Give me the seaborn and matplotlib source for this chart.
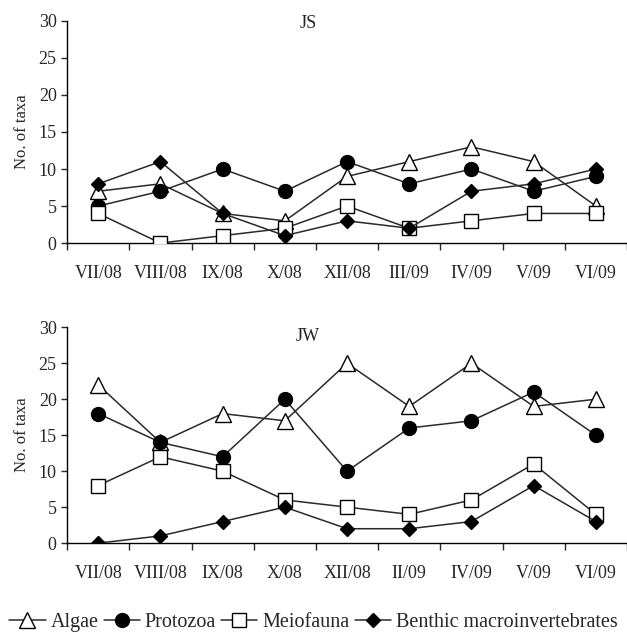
import numpy as np
import pandas as pd
import matplotlib
matplotlib.use("Agg")
import matplotlib.pyplot as plt
from matplotlib.ticker import FixedLocator
from matplotlib.lines import Line2D
import seaborn as sns

sns.set_style("ticks")
plt.rcParams["font.family"] = ["Liberation Serif", "DejaVu Serif"]

# sampling dates for each site
js_months = ["VII/08", "VIII/08", "IX/08", "X/08", "XII/08", "III/09", "IV/09", "V/09", "VI/09"]
jw_months = ["VII/08", "VIII/08", "IX/08", "X/08", "XII/08", "II/09", "IV/09", "V/09", "VI/09"]

groups = ["Algae", "Protozoa", "Meiofauna", "Benthic macroinvertebrates"]

# JS site
js_algae = [7, 8, 4, 3, 9, 11, 13, 11, 5]
js_protozoa = [5, 7, 10, 7, 11, 8, 10, 7, 9]
js_meiofauna = [4, 0, 1, 2, 5, 2, 3, 4, 4]
js_benthic = [8, 11, 4, 1, 3, 2, 7, 8, 10]

# JW site
jw_algae = [22, 14, 18, 17, 25, 19, 25, 19, 20]
jw_protozoa = [18, 14, 12, 20, 10, 16, 17, 21, 15]
jw_meiofauna = [8, 12, 10, 6, 5, 4, 6, 11, 4]
jw_benthic = [0, 1, 3, 5, 2, 2, 3, 8, 3]

styles = {
    "Algae": dict(marker="^", markerfacecolor="white", markersize=11),
    "Protozoa": dict(marker="o", markerfacecolor="black", markersize=10),
    "Meiofauna": dict(marker="s", markerfacecolor="white", markersize=10),
    "Benthic macroinvertebrates": dict(marker="D", markerfacecolor="black", markersize=7),
}
line_col = "#2a2a2a"
serif = ["Liberation Serif", "DejaVu Serif"]


def panel(ax, months, series, title, title_y):
    for name, vals in zip(groups, series):
        st = styles[name]
        sns.lineplot(x=np.arange(len(months)), y=vals, ax=ax, color=line_col,
                     marker=st["marker"], markersize=st["markersize"],
                     markerfacecolor=st["markerfacecolor"], markeredgecolor="black",
                     markeredgewidth=1.0, linewidth=1.1, zorder=3)
    ax.set_xlim(-0.5, len(months) - 0.5)
    ax.set_ylim(0, 30)
    ax.set_yticks(range(0, 31, 5))
    ax.xaxis.set_major_locator(FixedLocator(np.arange(-0.5, len(months), 1.0)))
    ax.xaxis.set_minor_locator(FixedLocator(np.arange(len(months))))
    ax.set_xticklabels([])
    ax.set_xticklabels(months, minor=True)
    ax.tick_params(axis="x", which="major", length=5, width=1, direction="out")
    ax.tick_params(axis="x", which="minor", length=0, pad=16, labelsize=13)
    ax.tick_params(axis="y", length=4.5, width=1, labelsize=13, pad=3)
    ax.set_ylabel("No. of taxa", fontsize=12, labelpad=6)
    ax.set_xlabel("")
    ax.text(0.43, title_y, title, transform=ax.transAxes, ha="center", va="center",
            fontsize=13, family=serif)
    for s in ["top", "right"]:
        ax.spines[s].set_visible(False)
    for s in ["left", "bottom"]:
        ax.spines[s].set_linewidth(1.0)
        ax.spines[s].set_color("black")


fig = plt.figure(figsize=(6.27, 6.33), dpi=100)
ax1 = fig.add_axes([0.107, 0.616, 0.893, 0.351])
ax2 = fig.add_axes([0.107, 0.142, 0.893, 0.341])

panel(ax1, js_months, [js_algae, js_protozoa, js_meiofauna, js_benthic], "JS", 0.99)
panel(ax2, jw_months, [jw_algae, jw_protozoa, jw_meiofauna, jw_benthic], "JW", 0.955)

handles = [Line2D([], [], color=line_col, linewidth=1.1, marker=styles[g]["marker"],
                  markersize=styles[g]["markersize"], markerfacecolor=styles[g]["markerfacecolor"],
                  markeredgecolor="black") for g in groups]
fig.legend(handles, groups, loc="center", bbox_to_anchor=(0.5, 0.017), ncol=4, frameon=False,
           prop=dict(family=serif, size=14.5), handlelength=1.8, handletextpad=0.25,
           columnspacing=0.25, borderpad=0, borderaxespad=0)

fig.savefig("out.png", dpi=100)
